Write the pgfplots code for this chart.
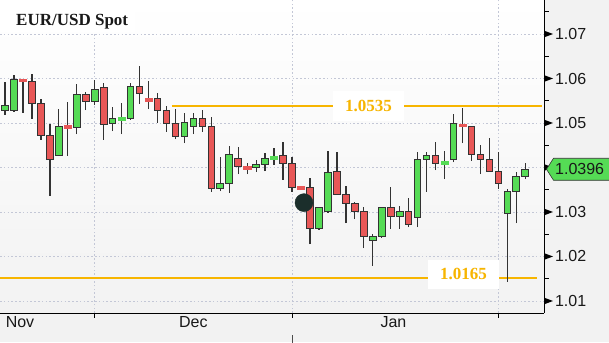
\documentclass[border=0pt]{standalone}
\usepackage{pgfplots}
\pgfplotsset{compat=1.18}
\usepackage{pgfplotstable}
\usepackage{fontspec}
\setmainfont{Liberation Sans}
\newfontfamily\titlefont{Liberation Serif}

\definecolor{cgreen}{HTML}{55DB55}
\definecolor{cred}{HTML}{E85757}
\definecolor{cedge}{HTML}{333333}
\definecolor{cgold}{HTML}{F7B500}
\definecolor{cgrid}{HTML}{C3C7D6}
\definecolor{cbg}{HTML}{F2F2F2}
\definecolor{cdot}{HTML}{1B2E2B}

\pgfdeclareplotmark{nothing}{}
\pgfdeclareplotmark{rtri}{%
  \pgfpathmoveto{\pgfqpoint{0.5pt}{3.2pt}}%
  \pgfpathlineto{\pgfqpoint{9pt}{0pt}}%
  \pgfpathlineto{\pgfqpoint{0.5pt}{-3.2pt}}%
  \pgfpathclose\pgfusepathqfill}
\pgfdeclareplotmark{rtick}{%
  \pgfpathmoveto{\pgfqpoint{0pt}{0pt}}%
  \pgfpathlineto{\pgfqpoint{4.5pt}{0pt}}%
  \pgfusepathqstroke}

\pgfplotsset{
  candle/.style={
    only marks, mark=nothing, scatter, point meta=y,
    visualization depends on={\thisrow{H}-\thisrow{O} \as \candleup},
    visualization depends on={\thisrow{L}-\thisrow{O} \as \candledn},
    visualization depends on={\thisrow{C}-\thisrow{O} \as \candlebd},
    scatter/@pre marker code/.code={%
      \draw[cedge, line width=1.3pt] (axis direction cs:0,\candledn) -- (axis direction cs:0,\candleup);
      \filldraw[fill=#1, draw=cedge, line width=1pt] (axis direction cs:-0.37,0) rectangle (axis direction cs:0.37,\candlebd);
    },
    scatter/@post marker code/.code={},
  },
  doji/.style={
    only marks, mark=nothing, scatter, point meta=y,
    visualization depends on={\thisrow{H}-\thisrow{O} \as \candleup},
    visualization depends on={\thisrow{L}-\thisrow{O} \as \candledn},
    scatter/@pre marker code/.code={%
      \draw[cedge, line width=1.3pt] (axis direction cs:0,\candledn) -- (axis direction cs:0,\candleup);
      \fill[#1] ([yshift=-1.3pt]axis direction cs:-0.4,0) rectangle ([yshift=1.3pt]axis direction cs:0.4,0);
    },
    scatter/@post marker code/.code={},
  },
}

\pgfplotstableread{
k O H L C
0 1.0529 1.0592 1.0518 1.0540
1 1.0529 1.0608 1.0525 1.0597
6 1.0428 1.0531 1.0428 1.0493
8 1.0489 1.0588 1.0475 1.0565
10 1.0549 1.0597 1.0540 1.0576
12 1.0498 1.0536 1.0482 1.0509
14 1.0509 1.0590 1.0507 1.0583
20 1.0469 1.0522 1.0455 1.0500
21 1.0493 1.0522 1.0475 1.0511
24 1.0352 1.0424 1.0347 1.0363
25 1.0363 1.0448 1.0343 1.0430
28 1.0399 1.0417 1.0390 1.0406
29 1.0406 1.0433 1.0392 1.0421
35 1.0264 1.0309 1.0260 1.0309
36 1.0302 1.0437 1.0298 1.0388
41 1.0237 1.0251 1.0179 1.0244
42 1.0244 1.0309 1.0242 1.0309
44 1.0289 1.0313 1.0262 1.0300
46 1.0287 1.0435 1.0266 1.0417
47 1.0417 1.0435 1.0345 1.0426
50 1.0417 1.0520 1.0412 1.0498
56 1.0296 1.0352 1.0143 1.0345
57 1.0345 1.0390 1.0275 1.0379
58 1.0379 1.0410 1.0374 1.0396
}\greentab

\pgfplotstableread{
k O H L C
3 1.0594 1.0610 1.0509 1.0543
4 1.0543 1.0554 1.0462 1.0473
5 1.0473 1.0498 1.0336 1.0417
9 1.0565 1.0570 1.0529 1.0549
11 1.0579 1.0590 1.0462 1.0496
15 1.0583 1.0628 1.0543 1.0567
17 1.0554 1.0567 1.0500 1.0527
18 1.0527 1.0538 1.0480 1.0498
19 1.0498 1.0531 1.0464 1.0469
22 1.0511 1.0530 1.0480 1.0491
23 1.0491 1.0513 1.0345 1.0352
26 1.0421 1.0446 1.0385 1.0403
31 1.0428 1.0457 1.0372 1.0408
32 1.0408 1.0424 1.0345 1.0354
34 1.0354 1.0376 1.0228 1.0264
37 1.0390 1.0435 1.0340 1.0340
38 1.0340 1.0358 1.0275 1.0320
39 1.0320 1.0322 1.0284 1.0302
40 1.0302 1.0311 1.0219 1.0244
43 1.0309 1.0356 1.0262 1.0289
45 1.0300 1.0331 1.0266 1.0273
48 1.0426 1.0457 1.0394 1.0410
52 1.0491 1.0493 1.0415 1.0430
53 1.0430 1.0451 1.0385 1.0419
54 1.0419 1.0466 1.0390 1.0390
55 1.0390 1.0435 1.0352 1.0363
}\redtab

\pgfplotstableread{
k O H L C
13 1.0509 1.0545 1.0475 1.0510
30 1.0422 1.0444 1.0406 1.0424
49 1.0411 1.0437 1.0374 1.0412
}\greendoji

\pgfplotstableread{
k O H L C
2 1.0596 1.0599 1.0523 1.0594
7 1.0491 1.0547 1.0426 1.0489
16 1.0553 1.0594 1.0531 1.0552
27 1.0400 1.0410 1.0385 1.0399
33 1.0355 1.0357 1.0353 1.0354
51 1.0495 1.0534 1.0455 1.0492
}\reddoji

\begin{document}
\begin{tikzpicture}
\useasboundingbox (0,0) rectangle (609pt,342pt);
\fill[cbg] (0,0) rectangle (609pt,342pt);
\begin{axis}[
  at={(0pt,29pt)}, anchor=south west,
  width=544pt, height=313pt, scale only axis,
  xmin=-0.56, xmax=60.09, ymin=1.0073, ymax=1.07764,
  clip=false,
  axis background/.style={top color=white, bottom color=cbg},
  axis x line*=bottom, axis y line*=right,
  axis line style={-, black, line width=1pt},
  tick align=outside,
  xtick={10,32,55}, xticklabels={,,},
  major tick length=4.5pt,
  xtick style={black, line width=1pt},
  extra x ticks={1.67,21,43.3},
  extra x tick labels={Nov,Dec,Jan},
  extra x tick style={major tick length=0pt, grid=none},
  ytick={1.01,1.02,1.03,1.04,1.05,1.06,1.07},
  yticklabels={1.01,1.02,1.03,,1.05,1.06,1.07},
  ytick style={draw=none},
  yticklabel style={xshift=3pt},
  tick label style={font=\fontsize{16}{16}\selectfont, text=black!90},
  grid=major,
  major grid style={cgrid, line width=0.8pt, dash pattern=on 1.6pt off 2.2pt},
]
\addplot[cgold, line width=2pt] coordinates {(18.6,1.05393) (59.9,1.05393)};
\addplot[cgold, line width=2pt] coordinates {(-0.56,1.01506) (59.3,1.01506)};
\addplot[candle=cgreen] table[x=k, y=O] \greentab;
\addplot[candle=cred] table[x=k, y=O] \redtab;
\addplot[doji=cgreen] table[x=k, y=O] \greendoji;
\addplot[doji=cred] table[x=k, y=O] \reddoji;
\addplot[only marks, mark=*, mark size=9pt, cdot] coordinates {(33.33,1.0321)};
\addplot[only marks, mark=rtri, black] coordinates {(60.09,1.01) (60.09,1.02) (60.09,1.03) (60.09,1.04) (60.09,1.05) (60.09,1.06) (60.09,1.07)};
\addplot[only marks, mark=rtick, black, line width=1pt] coordinates {(60.09,1.015) (60.09,1.025) (60.09,1.035) (60.09,1.045) (60.09,1.055) (60.09,1.065) (60.09,1.075)};
\node[fill=white, text=cgold, inner sep=0pt, minimum width=71pt, minimum height=30pt, font=\titlefont\bfseries\fontsize{17}{17}\selectfont] at (axis cs:40.52,1.05393) {1.0535};
\node[fill=white, text=cgold, inner sep=0pt, minimum width=71pt, minimum height=29pt, font=\titlefont\bfseries\fontsize{17}{17}\selectfont] at (axis cs:51.11,1.01596) {1.0165};
\coordinate (glab) at (axis cs:60.09,1.0396);
\coordinate (janm) at (axis cs:32,1.0073);
\end{axis}
\filldraw[fill=cgreen, draw=cedge, line width=0.6pt] ([xshift=2.5pt]glab) -- ([xshift=9.5pt,yshift=11pt]glab) -- ([xshift=80pt,yshift=11pt]glab) -- ([xshift=80pt,yshift=-11pt]glab) -- ([xshift=9.5pt,yshift=-11pt]glab) -- cycle;
\node[anchor=west, inner sep=0pt, font=\fontsize{16}{16}\selectfont, text=black!90] at ([xshift=11pt]glab) {1.0396};
\draw[black!70, line width=0.8pt] ([yshift=-22pt]janm) -- ([yshift=-30pt]janm);
\fill[white] (0,310pt) rectangle (135pt,342pt);
\node[anchor=base west, inner sep=0pt, font=\titlefont\bfseries\fontsize{17}{17}\selectfont, text=black!90] at (16pt,316pt) {EUR/USD Spot};
\end{tikzpicture}
\end{document}
